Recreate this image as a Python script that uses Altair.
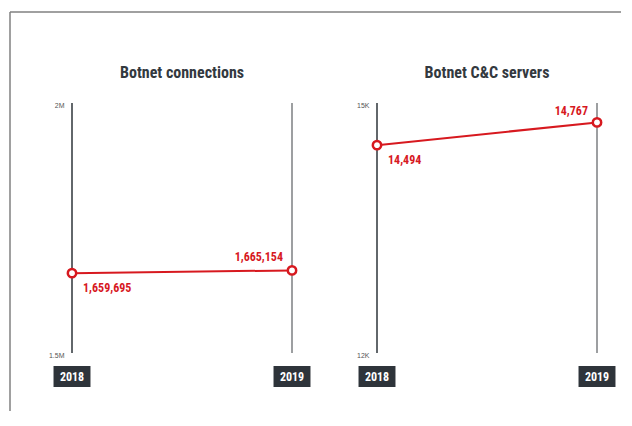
import altair as alt
import pandas as pd

years = [2018, 2019]
connections = [1659695, 1665154]
cc_servers = [14494, 14767]
titles = ["Botnet connections", "Botnet C&C servers"]
conn_ticks = [1500000, 2000000]
cc_ticks = [12000, 15000]

RED = "#d7191f"
DARK = "#2e343a"
GRAY = "#7c7f82"
TITLE_C = "#33393f"
COND = "Roboto Condensed, Roboto, sans-serif"
W, H = 220, 250


def panel(values, ticks, suffix, divisor, title, last_dy, frame=False):
    df = pd.DataFrame({"year": years, "value": values, "pos": ["first", "last"]})
    xs = alt.Scale(domain=[years[0], years[-1]], nice=False, zero=False)
    ys = alt.Scale(domain=ticks, nice=False, zero=False)
    x = alt.X("year:Q", scale=xs, axis=None)
    base = alt.Chart(df)
    one = alt.Chart(pd.DataFrame({"k": [0]}))

    rules = base.mark_rule(strokeWidth=1.5).encode(
        x=x,
        y=alt.Y(datum=ticks[1], type="quantitative", scale=ys),
        y2=alt.datum(ticks[0]),
        color=alt.condition(alt.datum.year == years[0], alt.value(DARK), alt.value(GRAY)),
    )
    line = base.mark_line(color=RED, strokeWidth=2).encode(
        x=x,
        y=alt.Y("value:Q", scale=ys,
                axis=alt.Axis(values=ticks,
                              labelExpr=f"datum.value / {divisor} + '{suffix}'",
                              domain=False, ticks=False, grid=False, title=None,
                              labelFontSize=7, labelColor="#555", labelPadding=8,
                              labelFont="Liberation Sans", labelOffset=2)),
    )
    pts = base.mark_point(filled=True, fill="white", stroke=RED, strokeWidth=2.5,
                          size=70, opacity=1).encode(x=x, y=alt.Y("value:Q", scale=ys))
    lab_first = base.transform_filter(alt.datum.pos == "first").mark_text(
        align="left", baseline="alphabetic", dx=11, dy=19, color=RED,
        font=COND, fontWeight="bold", fontSize=12,
    ).encode(x=x, y=alt.Y("value:Q", scale=ys), text=alt.Text("value:Q", format=",d"))
    lab_last = base.transform_filter(alt.datum.pos == "last").mark_text(
        align="right", baseline="alphabetic", dx=-9, dy=last_dy, color=RED,
        font=COND, fontWeight="bold", fontSize=12,
    ).encode(x=x, y=alt.Y("value:Q", scale=ys), text=alt.Text("value:Q", format=",d"))

    box = base.transform_calculate(
        x_lo="datum.year - 0.084", x_hi="datum.year + 0.084"
    ).mark_rect(color=DARK).encode(
        x=alt.X("x_lo:Q", scale=xs, axis=None), x2="x_hi:Q",
        y=alt.value(263), y2=alt.value(284),
    )
    box_txt = base.mark_text(color="white", font=COND, fontWeight="bold",
                             fontSize=12, baseline="middle", align="center").encode(
        x=x, y=alt.value(274), text=alt.Text("year:N"))

    ttl = one.mark_text(font=COND, fontWeight="bold", fontSize=16, color=TITLE_C,
                        align="center", baseline="alphabetic").encode(
        x=alt.value(W / 2), y=alt.value(-25), text=alt.value(title))

    layers = [rules, line, pts, lab_first, lab_last, box, box_txt, ttl]
    if frame:
        fh = one.mark_rule(color="#808080", strokeWidth=1.5).encode(
            x=alt.value(-62), x2=alt.value(549), y=alt.value(-91))
        fv = one.mark_rule(color="#808080", strokeWidth=1.5).encode(
            x=alt.value(-62), y=alt.value(-91), y2=alt.value(308))
        layers = [fh, fv] + layers
    return alt.layer(*layers).properties(width=W, height=H)


left = panel(connections, conn_ticks, "M", 1000000, titles[0], -9, frame=True)
right = panel(cc_servers, cc_ticks, "K", 1000, titles[1], -7)

chart = alt.hconcat(left, right, spacing=85, bounds="flush").properties(
    padding={"left": 1, "top": 3, "right": 0, "bottom": 0},
    background="white",
).configure_view(stroke=None)

chart.save("out.html", embed_options={"renderer": "svg", "actions": False})
